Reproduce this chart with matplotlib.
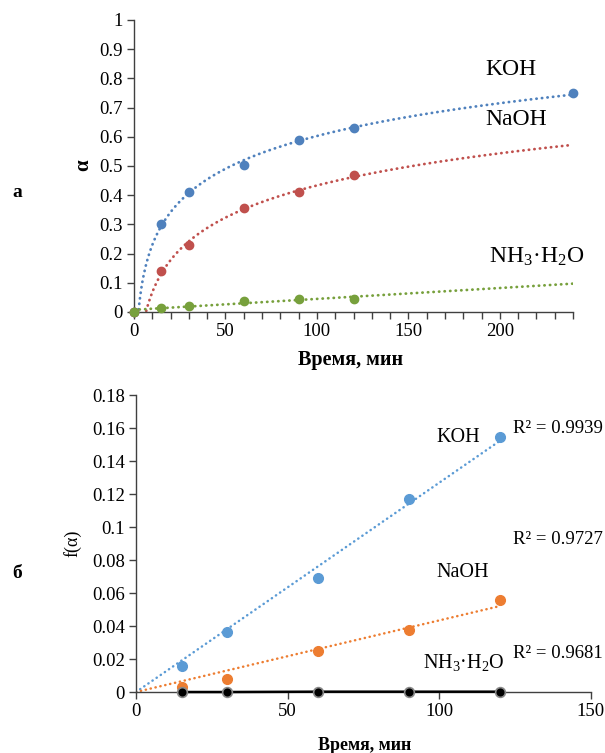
import numpy as np
import matplotlib.pyplot as plt
from matplotlib.ticker import MultipleLocator, FormatStrFormatter

plt.rcParams['font.family'] = ['Liberation Serif', 'DejaVu Serif']
plt.rcParams['mathtext.fontset'] = 'custom'
plt.rcParams['mathtext.rm'] = 'Liberation Serif'
plt.rcParams['mathtext.it'] = 'Liberation Serif:italic'

# --- (а) степень превращения от времени ---
t_a = [0, 15, 30, 60, 90, 120]
t_koh_a = [0, 15, 30, 60, 90, 120, 240]
alpha_koh = [0, 0.30, 0.41, 0.505, 0.59, 0.63, 0.75]
alpha_naoh = [0, 0.14, 0.23, 0.355, 0.41, 0.47]
alpha_nh3 = [0, 0.015, 0.02, 0.037, 0.045, 0.045]

# --- (б) f(α) от времени ---
t_b = [15, 30, 60, 90, 120]
f_koh = [0.016, 0.0365, 0.069, 0.117, 0.1545]
f_naoh = [0.003, 0.008, 0.025, 0.0375, 0.0555]
f_nh3 = [0.0, 0.0, 0.0002, 0.0002, 0.0002]
r2_labels = ['R² = 0.9939', 'R² = 0.9727', 'R² = 0.9681']

BLUE_A, RED_A, GREEN_A = '#4F81BD', '#C0504D', '#77A03C'
BLUE_B, ORANGE_B = '#5B9BD5', '#ED7D31'
DOT = (0, (0.1, 1.9))

fig = plt.figure(figsize=(6.05, 7.53), dpi=100)


def style_axes(ax, size):
    for s in ['top', 'right']:
        ax.spines[s].set_visible(False)
    for s in ['left', 'bottom']:
        ax.spines[s].set_color('#404040')
        ax.spines[s].set_linewidth(1.0)
    ax.tick_params(which='both', direction='out', length=5, width=1,
                   color='#404040', labelsize=size, pad=3)


def log_trend(x, y, xs):
    x = np.asarray(x, float)
    y = np.asarray(y, float)
    m = x > 0
    a, b = np.polyfit(np.log(x[m]), y[m], 1)
    return a * np.log(xs) + b


# верхний график
ax1 = fig.add_axes([0.2215, 0.5857, 0.7256, 0.3878])
style_axes(ax1, 13.5)
xs = np.linspace(1, 240, 400)
ax1.plot(xs, log_trend(t_koh_a, alpha_koh, xs), color=BLUE_A, lw=2,
         linestyle=DOT, dash_capstyle='round')
ax1.plot(xs, log_trend(t_a, alpha_naoh, xs), color=RED_A, lw=2,
         linestyle=DOT, dash_capstyle='round')
k, c = np.polyfit(t_a, alpha_nh3, 1)
xl = np.linspace(0, 240, 50)
ax1.plot(xl, k * xl + c, color=GREEN_A, lw=2, linestyle=DOT, dash_capstyle='round')
ax1.plot(t_koh_a, alpha_koh, 'o', color=BLUE_A, ms=6, clip_on=False, zorder=5)
ax1.plot(t_a, alpha_naoh, 'o', color=RED_A, ms=6, clip_on=False, zorder=5)
ax1.plot(t_a, alpha_nh3, 'o', color=GREEN_A, ms=6, clip_on=False, zorder=5)
ax1.set_xlim(0, 240)
ax1.set_ylim(0, 1)
ax1.xaxis.set_major_locator(MultipleLocator(50))
ax1.xaxis.set_minor_locator(MultipleLocator(10))
ax1.yaxis.set_major_locator(MultipleLocator(0.1))
ax1.yaxis.set_major_formatter(FormatStrFormatter('%g'))
ax1.text(206, 0.829, 'KOH', fontsize=17, ha='center', va='center')
ax1.text(209, 0.658, 'NaOH', fontsize=17, ha='center', va='center')
ax1.text(220, 0.188, r'NH$_3$·H$_2$O', fontsize=17, ha='center', va='center')

# нижний график
ax2 = fig.add_axes([0.2248, 0.081, 0.752, 0.3944])
style_axes(ax2, 13.5)
xb = np.linspace(0, 120, 50)
tb = np.asarray(t_b, float)
for fy, col in [(f_koh, BLUE_B), (f_naoh, ORANGE_B)]:
    slope = np.dot(tb, fy) / np.dot(tb, tb)
    ax2.plot(xb, slope * xb, color=col, lw=1.8, linestyle=DOT, dash_capstyle='round')
    ax2.plot(t_b, fy, 'o', color=col, ms=7, zorder=5)
ax2.plot(t_b, f_nh3, '-o', color='black', lw=1.8, ms=7, mec='#888888',
         mew=1.2, zorder=6, clip_on=False)
ax2.set_xlim(0, 150)
ax2.set_ylim(0, 0.18)
ax2.xaxis.set_major_locator(MultipleLocator(50))
ax2.yaxis.set_major_locator(MultipleLocator(0.02))
ax2.yaxis.set_major_formatter(FormatStrFormatter('%g'))
ax2.text(106.1, 0.1545, 'KOH', fontsize=14.5, ha='center', va='center')
ax2.text(107.6, 0.0727, 'NaOH', fontsize=14.5, ha='center', va='center')
ax2.text(108, 0.018, r'NH$_3$·H$_2$O', fontsize=14.5, ha='center', va='center')
for yv, lab in zip([0.160, 0.0927, 0.0236], r2_labels):
    ax2.text(124.4, yv, lab, fontsize=13.5, ha='left', va='center')

# подписи осей и панелей
fig.text(0.137, 0.781, 'α', fontsize=15, fontweight='bold', rotation=90,
         ha='center', va='center')
fig.text(0.029, 0.744, 'а', fontsize=14, fontweight='bold', ha='center', va='center')
fig.text(0.58, 0.522, 'Время, мин', fontsize=14.5, fontweight='bold',
         ha='center', va='center')
fig.text(0.119, 0.279, 'f(α)', fontsize=13, rotation=90, ha='center', va='center')
fig.text(0.029, 0.239, 'б', fontsize=14, fontweight='bold', ha='center', va='center')
fig.text(0.603, 0.0106, 'Время, мин', fontsize=13, fontweight='bold',
         ha='center', va='center')

fig.savefig('out.png', dpi=100)
plt.close(fig)
